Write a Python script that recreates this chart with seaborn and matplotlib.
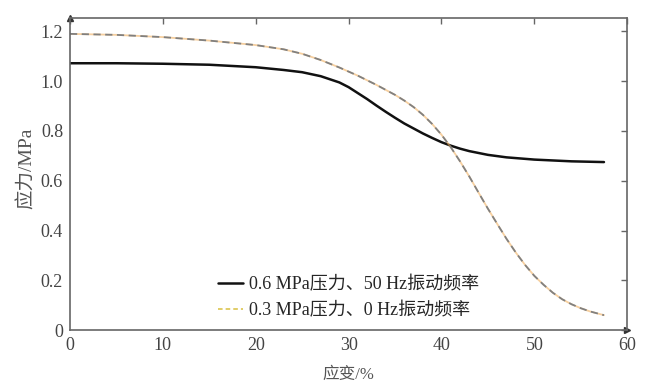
import matplotlib
matplotlib.use("Agg")
import matplotlib.pyplot as plt
import seaborn as sns
import pandas as pd
from matplotlib.lines import Line2D

sns.set_theme(style="white")
plt.rcParams['font.family'] = ['Liberation Serif', 'Noto Sans CJK SC']

# data
strain_a = [0, 5, 10, 15, 20, 23, 25, 27, 29, 30, 31, 32, 33, 34, 35, 36, 37, 38, 39, 40,
            41, 42, 43, 45, 47, 50, 54, 57.5]
stress_a = [1.072, 1.072, 1.070, 1.066, 1.056, 1.045, 1.036, 1.020, 0.995, 0.976, 0.952,
            0.928, 0.902, 0.877, 0.853, 0.830, 0.810, 0.790, 0.772, 0.755, 0.741, 0.729,
            0.719, 0.704, 0.694, 0.685, 0.678, 0.675]

strain_b = [0, 5, 10, 15, 20, 23, 25, 27, 29, 31, 33, 35, 36, 37, 38, 39, 40, 41, 42, 43,
            44, 45, 46, 47, 48, 49, 50, 51, 52, 53, 54, 55, 56, 57.5]
stress_b = [1.190, 1.186, 1.177, 1.163, 1.145, 1.128, 1.110, 1.085, 1.055, 1.022, 0.985,
            0.945, 0.922, 0.896, 0.865, 0.828, 0.785, 0.735, 0.678, 0.617, 0.552, 0.488,
            0.427, 0.367, 0.312, 0.262, 0.218, 0.182, 0.150, 0.124, 0.104, 0.088, 0.075, 0.060]

label_a = "0.6 MPa压力、50 Hz振动频率"
label_b = "0.3 MPa压力、0 Hz振动频率"

xticks = [0, 10, 20, 30, 40, 50, 60]
yticks = [0, 0.2, 0.4, 0.6, 0.8, 1.0, 1.2]
yticklabels = ["0", "0.2", "0.4", "0.6", "0.8", "1.0", "1.2"]

df_a = pd.DataFrame({"x": strain_a, "y": stress_a})
df_b = pd.DataFrame({"x": strain_b, "y": stress_b})

fig = plt.figure(figsize=(6.54, 3.87), dpi=100)
ax = fig.add_axes([0.107, 0.147, 0.852, 0.806])

sns.lineplot(data=df_a, x="x", y="y", ax=ax, color="#111111", lw=1.8, legend=False)
sns.lineplot(data=df_b, x="x", y="y", ax=ax, color="#f0b060", lw=1.3, alpha=0.6, legend=False)
sns.lineplot(data=df_b, x="x", y="y", ax=ax, color="#808080", lw=1.3, ls=(0, (4, 2.5)), legend=False)

h_a = Line2D([], [], color="#111111", lw=1.8)
h_b = Line2D([], [], color="#d8c040", lw=1.1, ls=(0, (3, 2)))
ax.legend([h_a, h_b], [label_a, label_b], loc="lower left", bbox_to_anchor=(0.253, 0.012),
          borderaxespad=0, frameon=False, handlelength=1.4, handletextpad=0.3,
          labelspacing=0.5, prop={'size': 13})

ax.set_xlim(0, 60)
ax.set_ylim(0, 1.253)
ax.set_xticks(xticks)
ax.set_yticks(yticks)
ax.set_yticklabels(yticklabels)
ax.set_xlabel("应变/%", fontsize=12, color="#555555", labelpad=9)
ax.set_ylabel("应力/MPa", fontsize=14, color="#555555")
ax.yaxis.set_label_coords(-0.062, 0.52)

for s in ax.spines.values():
    s.set_visible(True)
    s.set_color("#666666")
    s.set_linewidth(1.2)
ax.tick_params(direction="in", length=4, width=1, colors="#666666", labelcolor="#444444",
               labelsize=13, top=True, right=True, labeltop=False, labelright=False, pad=5)

ax.plot(0, 1, marker="^", color="#333333", markersize=4, transform=ax.transAxes, clip_on=False)
ax.plot(1, 0, marker=">", color="#333333", markersize=4, transform=ax.transAxes, clip_on=False)

fig.savefig("out.png", dpi=100)
